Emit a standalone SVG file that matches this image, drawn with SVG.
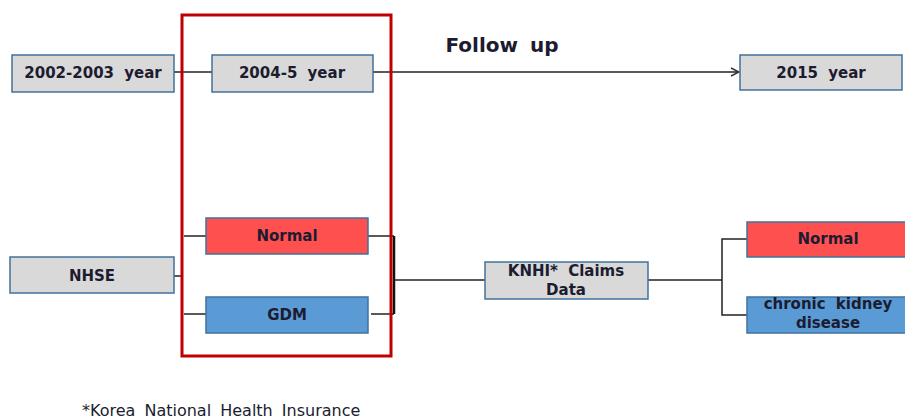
<svg xmlns="http://www.w3.org/2000/svg" width="905" height="419" viewBox="0 0 905 419">
<defs>
<style>
.box{stroke:#41719c;stroke-width:1.5}
.gray{fill:#d9d9d9}
.red{fill:#ff5050}
.blue{fill:#5b9bd5}
.t{font-family:"DejaVu Sans","Noto Sans",sans-serif;font-size:15px;font-weight:bold;fill:#1c1c30;text-anchor:middle;word-spacing:5px}
.ln{stroke:#222;stroke-width:1.5;fill:none}
</style>
<marker id="arr" markerWidth="10" markerHeight="10" refX="9" refY="5" orient="auto" markerUnits="userSpaceOnUse">
<path d="M1,1 L9,5 L1,9" fill="none" stroke="#333" stroke-width="1.5"/>
</marker>
</defs>
<rect width="905" height="419" fill="#fff"/>
<g id="connectors">
<line class="ln" x1="174" y1="72" x2="212" y2="72"/>
<line class="ln" x1="373" y1="72" x2="739" y2="72" marker-end="url(#arr)"/>
<line class="ln" x1="174" y1="276" x2="182" y2="276"/>
<line class="ln" x1="184" y1="236" x2="206" y2="236"/>
<line class="ln" x1="184" y1="314" x2="206" y2="314"/>
<line class="ln" x1="368" y1="236" x2="394" y2="236"/>
<line class="ln" x1="371" y1="314" x2="394" y2="314"/>
<line x1="394" y1="236" x2="394" y2="314" stroke="#111" stroke-width="2.5"/>
<line class="ln" x1="394" y1="280" x2="485" y2="280"/>
<line class="ln" x1="645" y1="280" x2="722" y2="280"/>
<polyline class="ln" points="747,239 722,239 722,315 747,315"/>
</g>
<rect id="cohort-frame" x="182" y="15" width="209" height="341" fill="none" stroke="#c00000" stroke-width="3"/>
<text x="502" y="52" font-family="'DejaVu Sans','Noto Sans',sans-serif" font-size="20" font-weight="bold" fill="#1c1c30" text-anchor="middle" word-spacing="5">Follow up</text>
<g id="n2002"><rect class="box gray" x="12" y="55" width="162" height="37"/><text class="t" x="93" y="78">2002-2003 year</text></g>
<g id="n2004"><rect class="box gray" x="212" y="55" width="161" height="37"/><text class="t" x="292" y="78">2004-5 year</text></g>
<g id="n2015"><rect class="box gray" x="740" y="55" width="162" height="35"/><text class="t" x="821" y="78">2015 year</text></g>
<g id="nhse"><rect class="box gray" x="10" y="257" width="164" height="36"/><text class="t" x="92" y="281">NHSE</text></g>
<g id="normal1"><rect class="box red" x="206" y="218" width="162" height="36"/><text class="t" x="287" y="241">Normal</text></g>
<g id="gdm"><rect class="box blue" x="206" y="297" width="162" height="36"/><text class="t" x="287" y="320">GDM</text></g>
<g id="knhi"><rect class="box gray" x="485" y="262" width="163" height="37"/><text class="t" x="566" y="276">KNHI* Claims</text><text class="t" x="566" y="295">Data</text></g>
<g id="normal2"><rect class="box red" x="747" y="222" width="162" height="35"/><text class="t" x="828" y="244">Normal</text></g>
<g id="ckd"><rect class="box blue" x="747" y="297" width="162" height="36"/><text class="t" x="828" y="309">chronic kidney</text><text class="t" x="828" y="328">disease</text></g>
<text x="82" y="416" font-family="'DejaVu Sans','Noto Sans',sans-serif" font-size="16" fill="#1c1c30" word-spacing="4">*Korea National Health Insurance</text>
</svg>
